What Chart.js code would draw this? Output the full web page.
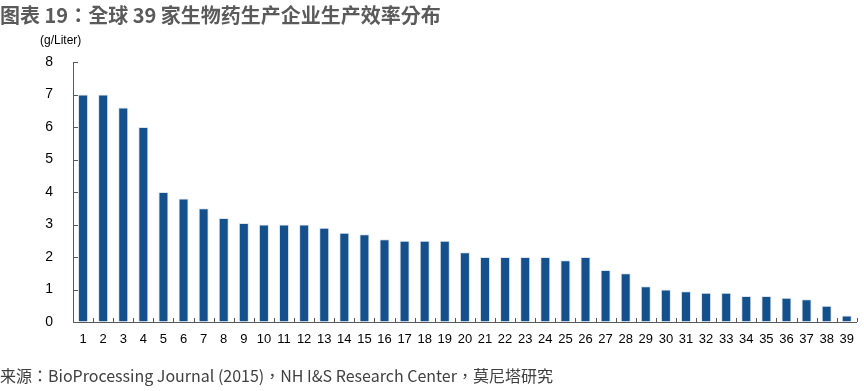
<!DOCTYPE html>
<html>
<head>
<meta charset="utf-8">
<script src="https://cdn.jsdelivr.net/npm/chart.js@4"></script>
<style>
    body { margin: 0; width: 864px; height: 391px; background: #fff; position: relative; overflow: hidden; }
    #title { position: absolute; left: 0; top: 0; font: bold 20px "Noto Sans CJK TC"; color: #5a5a5a; white-space: nowrap; }
    #unit { position: absolute; left: 40px; top: 33px; font: 12px "Liberation Sans", Arial; color: #000; }
    #source { position: absolute; left: 0; top: 363px; font: 16px "Noto Sans CJK TC"; color: #404040; white-space: nowrap; }
    #wrap { position: absolute; left: 0; top: 0; width: 864px; height: 391px; }
</style>
</head>
<body>
<div id="wrap"><canvas id="chart"></canvas></div>
<div id="title">图表 19：全球 39 家生物药生产企业生产效率分布</div>
<div id="unit">(g/Liter)</div>
<div id="source">来源：BioProcessing Journal (2015)，NH I&amp;S Research Center，莫尼塔研究</div>
<script>
const companies = ["1","2","3","4","5","6","7","8","9","10","11","12","13","14","15","16","17","18","19","20",
    "21","22","23","24","25","26","27","28","29","30","31","32","33","34","35","36","37","38","39"];
const efficiency = [7.0, 7.0, 6.6, 6.0, 4.0, 3.8, 3.5, 3.2, 3.05, 3.0, 3.0, 3.0, 2.9, 2.75, 2.7, 2.55, 2.5, 2.5, 2.5, 2.15,
    2.0, 2.0, 2.0, 2.0, 1.9, 2.0, 1.6, 1.5, 1.1, 1.0, 0.95, 0.9, 0.9, 0.8, 0.8, 0.75, 0.7, 0.5, 0.2];
const yTicks = [0, 1, 2, 3, 4, 5, 6, 7, 8];

// small inward tick marks like the original
const innerTicks = {
    id: 'innerTicks',
    afterDraw(chart) {
        const ctx = chart.ctx;
        const x = chart.scales.x, y = chart.scales.y;
        const area = chart.chartArea;
        ctx.save();
        ctx.strokeStyle = '#595959';
        ctx.lineWidth = 1;
        ctx.beginPath();
        yTicks.forEach(v => {
            const py = Math.round(y.getPixelForValue(v)) + 0.5;
            ctx.moveTo(area.left, py);
            ctx.lineTo(area.left + 5, py);
        });
        for (let i = 0; i <= companies.length; i++) {
            const px = Math.round(x.getPixelForValue(i - 0.5)) + 0.5;
            ctx.moveTo(px, area.bottom);
            ctx.lineTo(px, area.bottom - 4);
        }
        ctx.stroke();
        ctx.restore();
    }
};

new Chart(document.getElementById("chart"), {
    type: 'bar',
    data: {
        labels: companies,
        datasets: [{
            data: efficiency,
            backgroundColor: '#14508C',
            borderColor: '#dce4ee',
            borderWidth: 1,
            categoryPercentage: 1,
            barPercentage: 0.5
        }]
    },
    options: {
        responsive: true,
        maintainAspectRatio: false,
        animation: false,
        layout: { padding: { top: 62, right: 1, bottom: 37, left: 0 } },
        plugins: {
            legend: { display: false },
            tooltip: { enabled: false }
        },
        scales: {
            x: {
                grid: { display: true, drawOnChartArea: false, drawTicks: false, color: '#595959' },
                border: { color: '#595959', width: 1 },
                ticks: { color: '#000', font: { family: 'Liberation Sans', size: 13 }, padding: 10, maxRotation: 0, autoSkip: false },
                afterFit(scale) { scale.height = 32; }
            },
            y: {
                min: 0,
                max: 8,
                grid: { display: true, drawOnChartArea: false, drawTicks: false, color: 'rgba(0,0,0,0)' },
                border: { color: '#595959', width: 1 },
                ticks: { stepSize: 1, color: '#000', font: { family: 'Liberation Sans', size: 14 }, padding: 20 },
                afterFit(scale) { scale.width = 73; }
            }
        }
    },
    plugins: [innerTicks]
});
</script>
</body>
</html>
